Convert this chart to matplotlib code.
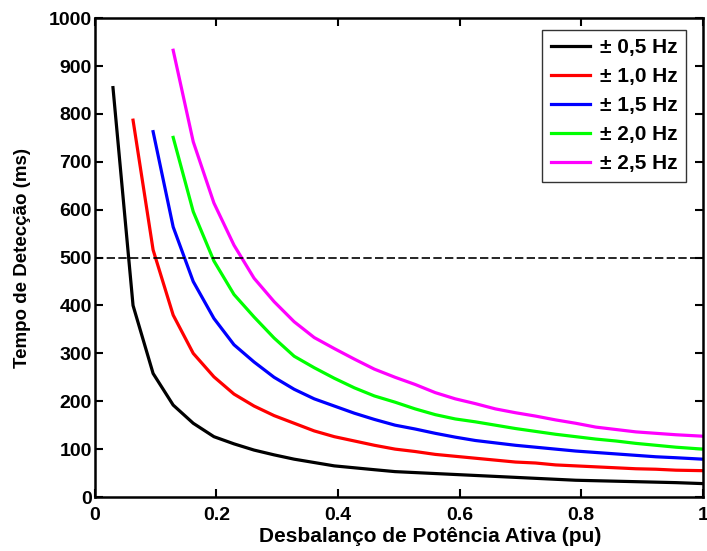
import numpy as np
import matplotlib
matplotlib.use("Agg")
from matplotlib import pyplot as plt

plt.rcParams['font.family'] = ['Liberation Sans', 'DejaVu Sans']
plt.rcParams['font.weight'] = 'bold'

# desbalanco de potencia (pu)
x = [0.03, 0.063, 0.096, 0.129, 0.162, 0.196, 0.229, 0.262, 0.295, 0.328,
     0.361, 0.394, 0.427, 0.46, 0.494, 0.527, 0.56, 0.593, 0.626, 0.659,
     0.692, 0.725, 0.758, 0.791, 0.824, 0.857, 0.89, 0.923, 0.956, 1.0]

t_05 = [855, 400, 258, 192, 154, 126, 111, 98, 88, 79, 72, 65, 61, 57, 53,
        51, 49, 47, 45, 43, 41, 39, 37, 35, 34, 33, 32, 31, 30, 28]
t_10 = [787, 516, 380, 300, 251, 215, 190, 170, 154, 138, 126, 117, 108, 100,
        95, 89, 85, 81, 77, 73, 71, 67, 65, 63, 61, 59, 58, 56, 55]
t_15 = [763, 564, 450, 373, 318, 282, 250, 225, 205, 190, 175, 162, 150, 142,
        133, 125, 118, 113, 108, 104, 100, 96, 93, 90, 87, 84, 82, 79]
t_20 = [751, 596, 493, 423, 376, 332, 294, 270, 248, 228, 211, 198, 184, 172,
        163, 157, 150, 143, 137, 131, 126, 121, 117, 112, 108, 104, 100]
t_25 = [933, 742, 614, 526, 457, 408, 366, 333, 310, 288, 267, 250, 235, 218,
        205, 195, 184, 176, 169, 161, 154, 146, 141, 136, 133, 130, 127]

labels = [u'\u00b1 0,5 Hz', u'\u00b1 1,0 Hz', u'\u00b1 1,5 Hz', u'\u00b1 2,0 Hz', u'\u00b1 2,5 Hz']
colors = ['k', 'r', 'b', '#00ff00', '#ff00ff']
series = [t_05, t_10, t_15, t_20, t_25]

fig = plt.figure(figsize=(7.07, 5.51), dpi=100)
ax = fig.add_axes([0.134, 0.098, 0.860, 0.869])

for s, c, l in zip(series, colors, labels):
    xs = x[len(x) - len(s):]
    ax.plot(xs, s, color=c, lw=2.3, label=l)

ax.axhline(500, color='k', lw=1.2, ls=(0, (5, 2)))

ax.set_xlim(0, 1)
ax.set_ylim(0, 1000)
ax.set_xticks([0, 0.2, 0.4, 0.6, 0.8, 1.0])
ax.set_xticklabels(['0', '0.2', '0.4', '0.6', '0.8', '1'])
ax.set_yticks(np.arange(0, 1001, 100))
ax.tick_params(direction='in', length=6, width=1.5, top=True, right=True,
               labelsize=14)
ax.tick_params(axis='x', pad=7)
ax.tick_params(axis='y', pad=2)
for lab in ax.get_xticklabels() + ax.get_yticklabels():
    lab.set_fontweight('bold')
for sp in ax.spines.values():
    sp.set_linewidth(1.8)

ax.set_xlabel(u'Desbalanço de Potência Ativa (pu)', fontsize=15, fontweight='bold')
ax.set_ylabel(u'Tempo de Detecção (ms)', fontsize=13.5, fontweight='bold')
ax.xaxis.set_label_coords(0.551, -0.063)
ax.yaxis.set_label_coords(-0.105, 0.5)

leg = ax.legend(loc='upper right', bbox_to_anchor=(0.972, 0.975), borderaxespad=0,
                fancybox=False, edgecolor='k', fontsize=15, handlelength=1.9,
                borderpad=0.4, labelspacing=0.48, handletextpad=0.45)
leg.get_frame().set_linewidth(1.0)
for t in leg.get_texts():
    t.set_fontweight('bold')

fig.savefig('out.png', dpi=100)
